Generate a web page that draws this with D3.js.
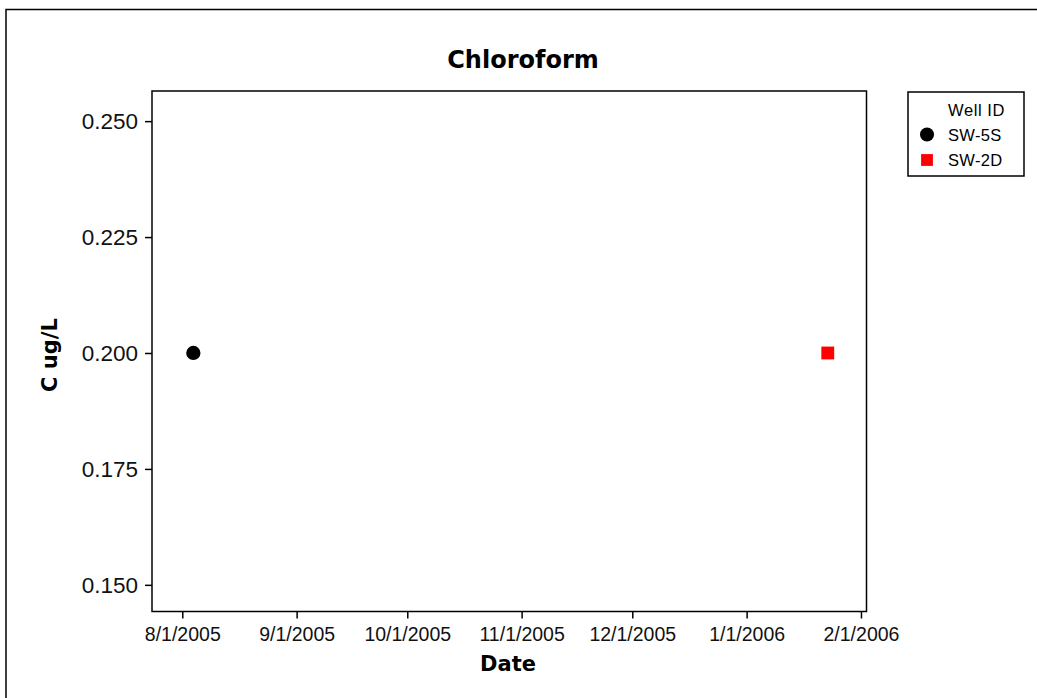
<!DOCTYPE html>
<html>
<head>
<meta charset="utf-8">
<script src="https://cdn.jsdelivr.net/npm/d3@7"></script>
<style>
  html, body { margin: 0; padding: 0; background: #fff; }
  svg { display: block; }
</style>
</head>
<body>
<svg id="chart" width="1037" height="698"></svg>
<script>
// Chloroform concentrations by sampling date, one series per well
const wellIds = ["SW-5S", "SW-2D"];
const sampleDates = ["2005-08-04", "2006-01-23"];
const concentrations = [0.200, 0.200];
const xTickDates = ["2005-08-01", "2005-09-01", "2005-10-01", "2005-11-01", "2005-12-01", "2006-01-01", "2006-02-01"];
const yTickValues = [0.150, 0.175, 0.200, 0.225, 0.250];
const xDomain = ["2005-07-23T19:00", "2006-02-02T12:00"];
const yDomain = [0.14425, 0.2565];

const parseDay = d3.timeParse("%Y-%m-%d");
const parseStamp = d3.timeParse("%Y-%m-%dT%H:%M");

const svg = d3.select("#chart");
const m = { left: 152, top: 91, right: 866.5, bottom: 611.5 };

const x = d3.scaleTime()
  .domain(xDomain.map(parseStamp))
  .range([m.left, m.right]);
const y = d3.scaleLinear()
  .domain(yDomain)
  .range([m.bottom, m.top]);

// Outer frame
svg.append("rect")
  .attr("x", 6).attr("y", 9.5)
  .attr("width", 1100).attr("height", 800)
  .attr("fill", "none").attr("stroke", "#000").attr("stroke-width", 1.5);

// Title
svg.append("text")
  .attr("x", 523).attr("y", 68)
  .attr("text-anchor", "middle")
  .attr("font-family", "DejaVu Sans")
  .attr("font-weight", "bold")
  .attr("font-size", 24)
  .text("Chloroform");

// Plot area frame
svg.append("rect")
  .attr("x", m.left).attr("y", m.top)
  .attr("width", m.right - m.left).attr("height", m.bottom - m.top)
  .attr("fill", "none").attr("stroke", "#000").attr("stroke-width", 1.5);

// X axis
const xAxis = d3.axisBottom(x)
  .tickValues(xTickDates.map(parseDay))
  .tickFormat(d3.timeFormat("%-m/%-d/%Y"))
  .tickSizeOuter(0)
  .tickSize(7)
  .tickPadding(9);
const gx = svg.append("g")
  .attr("transform", `translate(0,${m.bottom})`)
  .call(xAxis);
gx.select(".domain").remove();
gx.selectAll("line").attr("stroke", "#000").attr("stroke-width", 1.5);
gx.selectAll("text")
  .attr("font-family", "Liberation Sans")
  .attr("font-size", 19.5)
  .attr("fill", "#111");

// Y axis
const yAxis = d3.axisLeft(y)
  .tickValues(yTickValues)
  .tickFormat(d3.format(".3f"))
  .tickSizeOuter(0)
  .tickSize(7)
  .tickPadding(7);
const gy = svg.append("g")
  .attr("transform", `translate(${m.left},0)`)
  .call(yAxis);
gy.select(".domain").remove();
gy.selectAll("line").attr("stroke", "#000").attr("stroke-width", 1.5);
gy.selectAll("text")
  .attr("font-family", "Liberation Sans")
  .attr("font-size", 22.5)
  .attr("fill", "#111");

// Axis titles
svg.append("text")
  .attr("x", 508).attr("y", 671)
  .attr("text-anchor", "middle")
  .attr("font-family", "DejaVu Sans")
  .attr("font-weight", "bold")
  .attr("font-size", 21)
  .text("Date");
svg.append("text")
  .attr("transform", `translate(57,355) rotate(-90)`)
  .attr("text-anchor", "middle")
  .attr("font-family", "DejaVu Sans")
  .attr("font-weight", "bold")
  .attr("font-size", 21)
  .text("C ug/L");

// Data points
const rows = wellIds.map((id, i) => ({ id, date: parseDay(sampleDates[i]), value: concentrations[i] }));
const colors = { "SW-5S": "#000000", "SW-2D": "#ff0000" };
const symbols = { "SW-5S": d3.symbolCircle, "SW-2D": d3.symbolSquare };
const sizes = { "SW-5S": 160, "SW-2D": 165 };

svg.append("g").selectAll("path")
  .data(rows)
  .join("path")
  .attr("transform", d => `translate(${x(d.date)},${y(d.value)})`)
  .attr("d", d => d3.symbol(symbols[d.id], sizes[d.id])())
  .attr("fill", d => colors[d.id]);

// Legend
const lg = svg.append("g");
lg.append("rect")
  .attr("x", 908).attr("y", 92)
  .attr("width", 116).attr("height", 84)
  .attr("fill", "#fff").attr("stroke", "#000").attr("stroke-width", 1.5);
lg.append("text")
  .attr("x", 948).attr("y", 116)
  .attr("font-family", "Liberation Sans")
  .attr("font-size", 16.5)
  .attr("letter-spacing", 0.6)
  .text("Well ID");
wellIds.forEach((id, i) => {
  const cy = 134.5 + i * 25.5;
  lg.append("path")
    .attr("transform", `translate(927,${cy})`)
    .attr("d", d3.symbol(symbols[id], id === "SW-5S" ? 155 : 140)())
    .attr("fill", colors[id]);
  lg.append("text")
    .attr("x", 948).attr("y", cy + 6)
    .attr("font-family", "Liberation Sans")
    .attr("font-size", 16.5)
    .attr("letter-spacing", 0.3)
    .text(id);
});
</script>
</body>
</html>
